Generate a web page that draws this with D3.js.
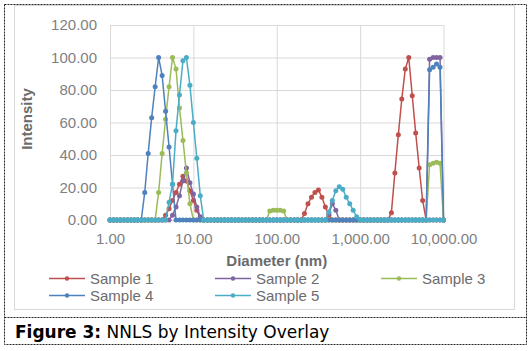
<!DOCTYPE html>
<html>
<head>
<meta charset="utf-8">
<script src="https://cdn.jsdelivr.net/npm/d3@7"></script>
<style>
  body { margin: 0; background: #fff; }
  svg { display: block; font-family: "Liberation Sans", Arial, sans-serif; }
</style>
</head>
<body>
<svg></svg>
<script>
// size grid (nm), 24 steps per decade
const diameters = [
  1.00, 1.10, 1.21, 1.33, 1.47, 1.62, 1.78, 1.96, 2.15, 2.37, 2.61, 2.87, 3.16, 3.48, 3.83, 4.22, 4.64, 5.11, 5.62, 6.19, 6.81, 7.50, 8.25, 9.09,
  10.0, 11.0, 12.1, 13.3, 14.7, 16.2, 17.8, 19.6, 21.5, 23.7, 26.1, 28.7, 31.6, 34.8, 38.3, 42.2, 46.4, 51.1, 56.2, 61.9, 68.1, 75.0, 82.5, 90.9,
  100, 110, 121, 133, 147, 162, 178, 196, 215, 237, 261, 287, 316, 348, 383, 422, 464, 511, 562, 619, 681, 750, 825, 909,
  1000, 1101, 1212, 1334, 1468, 1616, 1778, 1957, 2154, 2371, 2610, 2873, 3162, 3481, 3831, 4217, 4642, 5109, 5623, 6190, 6813, 7499, 8254, 9085,
  10000
]

const sample1 = [
  0, 0, 0, 0, 0, 0, 0, 0, 0, 0, 0, 0, 0, 0, 0, 0, 3, 7, 12, 17, 22, 27, 24, 18,
  12, 6, 1, 0, 0, 0, 0, 0, 0, 0, 0, 0, 0, 0, 0, 0, 0, 0, 0, 0, 0, 0, 0, 0,
  0, 0, 0, 0, 0, 0, 0, 0, 4, 10, 14, 17, 18.5, 14, 8, 3, 0, 0, 0, 0, 0, 0, 0, 0,
  0, 0, 0, 0, 0, 0, 0, 0, 0, 4.5, 29, 52.5, 74.5, 93, 100, 76.5, 53.5, 32, 12, 0, 0, 0, 0, 0,
  0
]
const sample2 = [
  0, 0, 0, 0, 0, 0, 0, 0, 0, 0, 0, 0, 0, 0, 0, 0, 0, 0, 3, 8, 15, 24, 32, 23,
  16, 8, 2, 0, 0, 0, 0, 0, 0, 0, 0, 0, 0, 0, 0, 0, 0, 0, 0, 0, 0, 0, 0, 0,
  0, 0, 0, 0, 0, 0, 0, 0, 0, 0, 0, 0, 0, 0, 0, 4, 10, 6, 0, 0, 0, 0, 0, 0,
  0, 0, 0, 0, 0, 0, 0, 0, 0, 0, 0, 0, 0, 0, 0, 0, 0, 0, 0, 0, 99, 100, 100, 100,
  0
]
const sample3 = [
  0, 0, 0, 0, 0, 0, 0, 0, 0, 0, 0, 0, 0, 0, 17, 41, 62, 82, 100, 93, 69, 49, 29, 10,
  0, 0, 0, 0, 0, 0, 0, 0, 0, 0, 0, 0, 0, 0, 0, 0, 0, 0, 0, 0, 0, 0, 5.5, 6,
  6, 6, 5.5, 0, 0, 0, 0, 0, 0, 0, 0, 0, 0, 0, 0, 0, 0, 0, 0, 0, 0, 0, 0, 0,
  0, 0, 0, 0, 0, 0, 0, 0, 0, 0, 0, 0, 0, 0, 0, 0, 0, 0, 0, 0, 34, 35, 35.5, 35,
  0
]
const sample4 = [
  0, 0, 0, 0, 0, 0, 0, 0, 0, 0, 17, 41, 63, 82, 100, 89, 67, 45, 22, 0, 0, 0, 0, 0,
  0, 0, 0, 0, 0, 0, 0, 0, 0, 0, 0, 0, 0, 0, 0, 0, 0, 0, 0, 0, 0, 0, 0, 0,
  0, 0, 0, 0, 0, 0, 0, 0, 0, 0, 0, 0, 0, 0, 0, 0, 0, 0, 0, 0, 0, 0, 0, 0,
  0, 0, 0, 0, 0, 0, 0, 0, 0, 0, 0, 0, 0, 0, 0, 0, 0, 0, 0, 0, 92.5, 94, 96, 94,
  0
]
const sample5 = [
  0, 0, 0, 0, 0, 0, 0, 0, 0, 0, 0, 0, 0, 0, 0, 0, 0, 11, 22, 55, 77, 98, 100, 83,
  60, 38, 15, 0, 0, 0, 0, 0, 0, 0, 0, 0, 0, 0, 0, 0, 0, 0, 0, 0, 0, 0, 0, 0,
  0, 0, 0, 0, 0, 0, 0, 0, 0, 0, 0, 0, 0, 0, 0, 5, 12, 18, 20.5, 19, 14, 10, 6, 2,
  0, 0, 0, 0, 0, 0, 0, 0, 0, 0, 0, 0, 0, 0, 0, 0, 0, 0, 0, 0, 0, 0, 0, 0,
  0
]

const seriesNames = ['Sample 1', 'Sample 2', 'Sample 3', 'Sample 4', 'Sample 5']
const seriesColors = ['#C0504D', '#8064A2', '#9BBB59', '#4F81BD', '#4BACC6']
const seriesValues = [sample1, sample2, sample3, sample4, sample5]

const xTicks = [1, 10, 100, 1000, 10000]
const yTicks = [0, 20, 40, 60, 80, 100, 120]

const width = 532
const height = 351
const plot = { left: 110, right: 443.5, top: 25, bottom: 220 }

const svg = d3.select('svg').
  attr('width', width).
  attr('height', height)

// frame around figure + caption
svg.append('rect').
  attr('x', 14.5).attr('y', 5.5).
  attr('width', 500).attr('height', 304).
  attr('fill', 'none').attr('stroke', '#d9d9d9')

svg.append('rect').
  attr('x', 4.5).attr('y', 4.5).
  attr('width', 522).attr('height', 340).
  attr('fill', 'none').attr('stroke', '#222').
  attr('stroke-dasharray', '2,1')

svg.append('line').
  attr('x1', 4.5).attr('x2', 526.5).
  attr('y1', 317.5).attr('y2', 317.5).
  attr('stroke', '#222').attr('stroke-dasharray', '2,1')

const x = d3.scaleLog().domain([1, 10000]).range([plot.left, plot.right])
const y = d3.scaleLinear().domain([0, 120]).range([plot.bottom, plot.top])

const yAxis = svg.append('g').
  attr('transform', `translate(${plot.left},0)`).
  call(d3.axisLeft(y).
    tickValues(yTicks).
    tickSize(-(plot.right - plot.left)).
    tickPadding(13).
    tickFormat(d3.format('.2f')))

const xAxis = svg.append('g').
  attr('transform', `translate(0,${plot.bottom})`).
  call(d3.axisBottom(x).
    tickValues(xTicks).
    tickSize(-(plot.bottom - plot.top)).
    tickPadding(13).
    tickFormat(d3.format(',.2f')))

for (const ax of [xAxis, yAxis]) {
  ax.select('.domain').remove()
  ax.selectAll('.tick line').attr('stroke', '#d9d9d9')
  ax.selectAll('.tick text').
    attr('fill', '#7f7f7f').
    attr('font-size', '15px').
    attr('font-family', '"Liberation Sans", Arial, sans-serif')
}

svg.append('text').
  attr('x', (plot.left + plot.right) / 2).
  attr('y', 266).
  attr('text-anchor', 'middle').
  attr('font-size', '15px').
  attr('font-weight', 'bold').
  attr('fill', '#6b6b6b').
  text('Diameter (nm)')

svg.append('text').
  attr('transform', 'translate(32,119) rotate(-90)').
  attr('text-anchor', 'middle').
  attr('font-size', '15px').
  attr('font-weight', 'bold').
  attr('fill', '#6b6b6b').
  text('Intensity')

const line = d3.line().
  x(d => x(d.d)).
  y(d => y(d.v))

seriesValues.forEach((vals, i) => {
  const pts = vals.map((v, k) => ({ d: diameters[k], v: v }))
  const g = svg.append('g')
  g.append('path').
    attr('d', line(pts)).
    attr('fill', 'none').
    attr('stroke', seriesColors[i]).
    attr('stroke-width', 1.5)
  g.selectAll('circle').data(pts).
    enter().append('circle').
    attr('cx', d => x(d.d)).
    attr('cy', d => y(d.v)).
    attr('r', 2.5).
    attr('fill', seriesColors[i])
})

// legend, three per row
const legendX = [49, 215, 381]
const legendY = [278.5, 295.5]
const legend = svg.selectAll('.legend').data(seriesNames).
  enter().append('g').
  attr('transform', (d, i) => `translate(${legendX[i % 3]},${legendY[Math.floor(i / 3)]})`)

legend.append('line').
  attr('x1', 0).attr('x2', 36).
  attr('stroke', (d, i) => seriesColors[i]).
  attr('stroke-width', 1.5)

legend.append('circle').
  attr('cx', 18).attr('r', 2.2).
  attr('fill', (d, i) => seriesColors[i])

legend.append('text').
  attr('x', 41).
  attr('dy', '0.35em').
  attr('font-size', '15px').
  attr('fill', '#6b6b6b').
  text(d => d)

const caption = svg.append('text').
  attr('x', 15).
  attr('y', 338).
  style('font-family', '"DejaVu Sans", Verdana, sans-serif').
  attr('font-size', '17px').
  attr('fill', '#000')
caption.append('tspan').attr('font-weight', 'bold').text('Figure 3:')
caption.append('tspan').text(' NNLS by Intensity Overlay')
</script>
</body>
</html>
